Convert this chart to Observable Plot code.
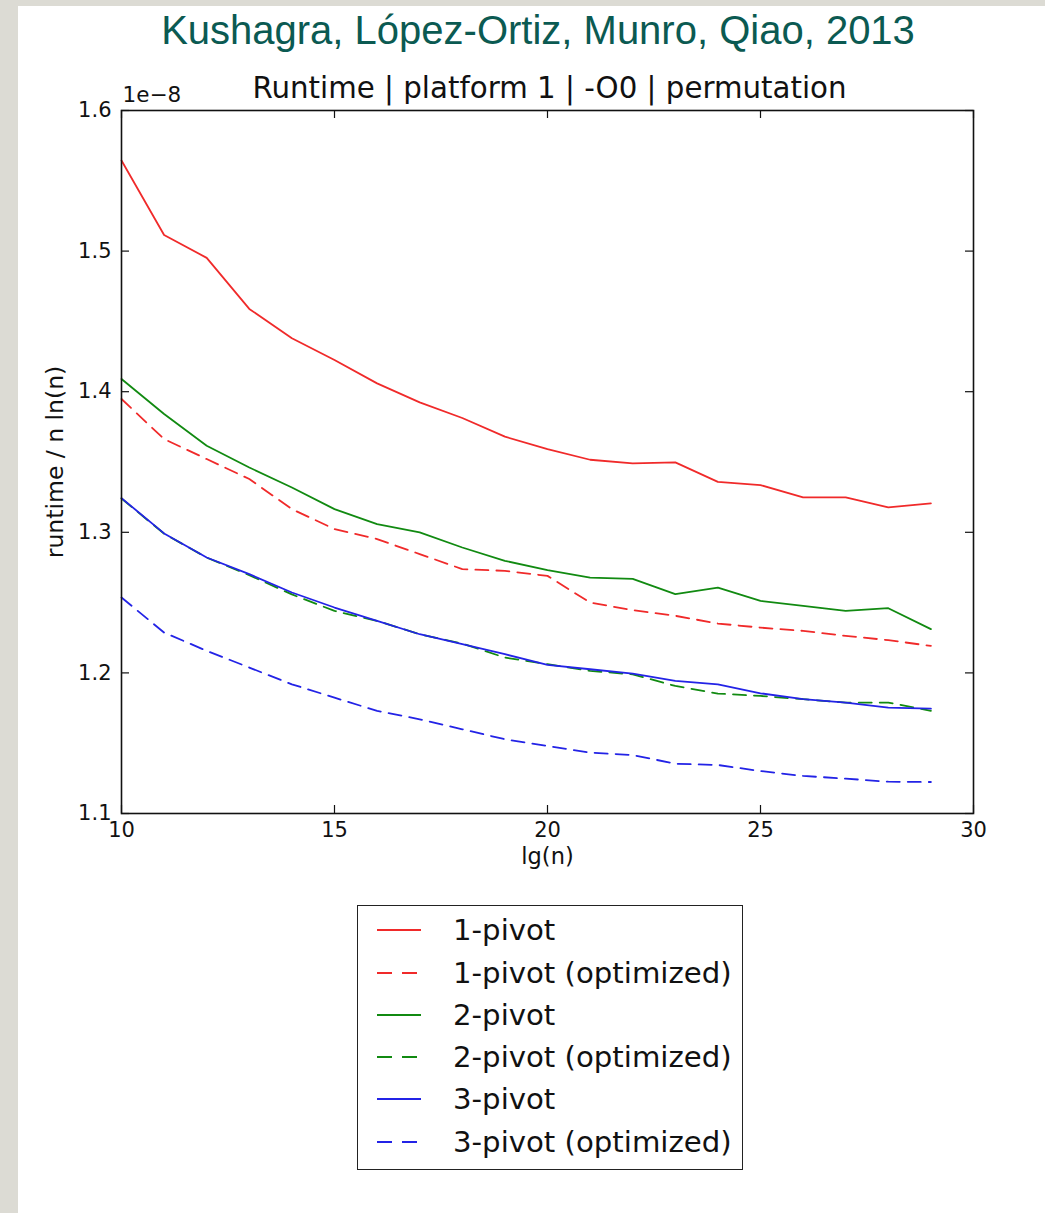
<!DOCTYPE html>
<html>
<head>
<meta charset="utf-8">
<script src="https://cdn.jsdelivr.net/npm/d3@7"></script>
<script src="https://cdn.jsdelivr.net/npm/@observablehq/plot@0.6"></script>
<style>
  html, body { margin: 0; padding: 0; }
  body { width: 1045px; height: 1213px; background: #dcdbd4; position: relative; overflow: hidden; font-family: "DejaVu Sans", sans-serif; }
  #panel { position: absolute; left: 18px; top: 6px; right: 0; bottom: 0; background: #fff; }
  #maintitle { position: absolute; left: 538px; top: 6px; transform: translateX(-50%); font-family: "Liberation Sans", Arial, sans-serif; font-size: 40px; color: #0b5a52; line-height: 48px; white-space: nowrap; }
  #chart { position: absolute; left: 0; top: 0; }
  #legend { position: absolute; left: 357px; top: 905px; width: 384px; height: 263px; border: 1.5px solid #222; background: #fff; }
  .row { position: absolute; left: 0; height: 40px; display: flex; align-items: center; }
  .row svg { margin-left: 19px; }
  .row span { margin-left: 32px; font-size: 29.2px; color: #111; white-space: nowrap; }
</style>
</head>
<body>
<div id="panel"></div>
<div id="maintitle">Kushagra, López-Ortiz, Munro, Qiao, 2013</div>
<div id="chart"></div>
<div id="legend"></div>
<script>
// ---- data (values in units of 1e-8) ----
const lgN = [10, 11, 12, 13, 14, 15, 16, 17, 18, 19, 20, 21, 22, 23, 24, 25, 26, 27, 28, 29];
const pivot1    = [1.5644,1.5115,1.4952,1.4589,1.4380,1.4225,1.4059,1.3924,1.3813,1.3680,1.3592,1.3516,1.3490,1.3497,1.3359,1.3336,1.3248,1.3248,1.3177,1.3205];
const pivot1Opt = [1.3948,1.3663,1.3521,1.3379,1.3165,1.3023,1.2952,1.2845,1.2738,1.2726,1.2690,1.2500,1.2446,1.2406,1.2351,1.2322,1.2299,1.2263,1.2233,1.2192];
const pivot2    = [1.4090,1.3841,1.3616,1.3461,1.3319,1.3165,1.3058,1.2999,1.2892,1.2797,1.2731,1.2678,1.2669,1.2560,1.2607,1.2512,1.2477,1.2441,1.2460,1.2311];
const pivot2Opt = [1.3240,1.2990,1.2820,1.2695,1.2558,1.2441,1.2370,1.2275,1.2209,1.2109,1.2062,1.2014,1.1990,1.1907,1.1853,1.1836,1.1813,1.1789,1.1789,1.1730];
const pivot3    = [1.3243,1.2992,1.2821,1.2702,1.2572,1.2465,1.2370,1.2275,1.2204,1.2133,1.2057,1.2026,1.1995,1.1943,1.1919,1.1855,1.1813,1.1789,1.1753,1.1746];
const pivot3Opt = [1.2536,1.2287,1.2157,1.2038,1.1919,1.1824,1.1730,1.1670,1.1599,1.1528,1.1480,1.1433,1.1416,1.1354,1.1345,1.1302,1.1267,1.1248,1.1226,1.1224];
const seriesNames = ["1-pivot", "1-pivot (optimized)", "2-pivot", "2-pivot (optimized)", "3-pivot", "3-pivot (optimized)"];
const xTicks = [10, 15, 20, 25, 30];
const yTicks = [1.1, 1.2, 1.3, 1.4, 1.5, 1.6];

// ---- styles ----
const RED = "#f02a2a", GREEN = "#118a11", BLUE = "#2323e6";
const DASH = "13,8";
const seriesStyle = [
  {values: pivot1, color: RED, dash: null},
  {values: pivot1Opt, color: RED, dash: DASH},
  {values: pivot2, color: GREEN, dash: null},
  {values: pivot2Opt, color: GREEN, dash: DASH},
  {values: pivot3, color: BLUE, dash: null},
  {values: pivot3Opt, color: BLUE, dash: DASH}
];

const W = 1045, H = 881;
const mL = 121, mR = 72, mT = 110, mB = 68;
const innerW = W - mL - mR, innerH = H - mT - mB;
const TICK = 8;

const lineMarks = seriesStyle.map(s =>
  Plot.line(lgN.map((x, i) => ({x, y: s.values[i]})), {
    x: "x", y: "y", stroke: s.color, strokeWidth: 1.8,
    strokeDasharray: s.dash ?? undefined, strokeLinejoin: "round"
  })
);

const chart = Plot.plot({
  width: W, height: H,
  marginLeft: mL, marginRight: mR, marginTop: mT, marginBottom: mB,
  style: {fontFamily: "DejaVu Sans", fontSize: "20px", background: "transparent", color: "#111"},
  x: {domain: [10, 30]},
  y: {domain: [1.1, 1.6]},
  marks: [
    ...lineMarks,
    Plot.axisX(xTicks, {anchor: "bottom", tickSize: 0, tickPadding: 9, fontSize: 21, tickFormat: d3.format("d"), label: null}),
    Plot.axisY(yTicks, {anchor: "left", tickSize: 0, tickPadding: 10, fontSize: 21, tickFormat: d3.format(".1f"), label: null}),
    // inward ticks on all four sides
    Plot.tickY(yTicks, {y: d => d, insetRight: innerW - TICK, stroke: "#111", strokeWidth: 1.2}),
    Plot.tickY(yTicks, {y: d => d, insetLeft: innerW - TICK, stroke: "#111", strokeWidth: 1.2}),
    Plot.tickX(xTicks, {x: d => d, insetTop: innerH - TICK, stroke: "#111", strokeWidth: 1.2}),
    Plot.tickX(xTicks, {x: d => d, insetBottom: innerH - TICK, stroke: "#111", strokeWidth: 1.2}),
    Plot.frame({stroke: "#111", strokeWidth: 1.6}),
    Plot.text(["lg(n)"], {text: d => d, frameAnchor: "bottom", dy: 50, fontSize: 22.5, fill: "#111"}),
    Plot.text(["runtime / n ln(n)"], {text: d => d, frameAnchor: "left", textAnchor: "middle", dx: -66, rotate: -90, fontSize: 23.5, fill: "#111"}),
    Plot.text(["Runtime | platform 1 | -O0 | permutation"], {text: d => d, frameAnchor: "top", dx: 2, dy: -13, lineAnchor: "bottom", fontSize: 29.3, fill: "#111"}),
    Plot.text(["1e\u22128"], {text: d => d, frameAnchor: "top-left", dx: 1, dy: -9, lineAnchor: "bottom", textAnchor: "start", fontSize: 21.5, fill: "#111"})
  ]
});
document.getElementById("chart").appendChild(chart);

// ---- legend ----
const legend = document.getElementById("legend");
const rowCenters = [930, 973, 1015, 1057, 1099, 1142];
seriesStyle.forEach((s, i) => {
  const row = document.createElement("div");
  row.className = "row";
  row.style.top = (rowCenters[i] - 906.5 - 20) + "px";
  const dash = s.dash ? `stroke-dasharray="15,10"` : "";
  row.innerHTML = `<svg width="44" height="10"><line x1="0" y1="5" x2="44" y2="5" stroke="${s.color}" stroke-width="2" ${dash}/></svg><span>${seriesNames[i]}</span>`;
  legend.appendChild(row);
});
</script>
</body>
</html>
